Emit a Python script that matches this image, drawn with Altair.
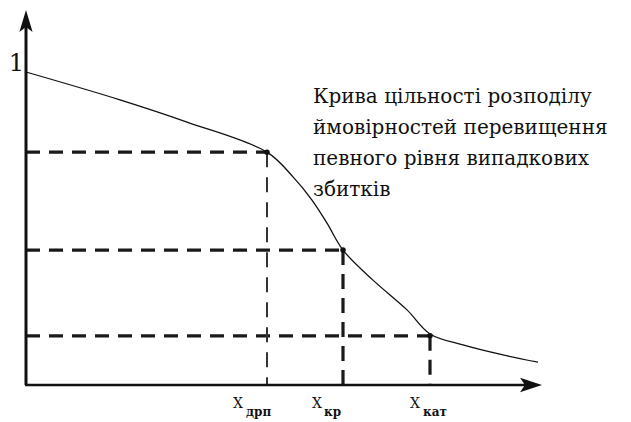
import altair as alt
import pandas as pd

# Curve: probability of exceeding a given level of random losses
curve_x = [0.0, 1.88, 3.22, 4.82, 5.34, 5.72, 6.02, 6.34, 6.94, 7.62, 8.08, 8.74, 9.54, 10.24]
curve_y = [1.0, 0.911, 0.840, 0.744, 0.665, 0.591, 0.517, 0.431, 0.335, 0.240, 0.163, 0.128, 0.096, 0.073]

# Threshold points
thr_names = ["дрп", "кр", "кат"]
thr_x = [4.82, 6.34, 8.08]
thr_y = [0.744, 0.431, 0.157]

y_label = "1"
annotation = ["Крива цільності розподілу",
              "ймовірностей перевищення",
              "певного рівня випадкових",
              "збитків"]

# ---- scales (50 px per x unit, 313 px per y unit) ----
PX = 50.0
PY = 313.0
xs = alt.Scale(domain=[-18 / PX, 597 / PX], nice=False, zero=False)
ys = alt.Scale(domain=[-35 / PY, 377 / PY], nice=False, zero=False)
FONT = "DejaVu Serif"


def X(field, **kw):
    return alt.X(field, type="quantitative", scale=xs, axis=None, **kw)


def Y(field, **kw):
    return alt.Y(field, type="quantitative", scale=ys, axis=None, **kw)


curve_df = pd.DataFrame({"x": curve_x, "y": curve_y})
thr_df = pd.DataFrame({"name": thr_names, "x": thr_x, "y": thr_y, "zero": [0.0] * 3})

# axes
yaxis = alt.Chart(pd.DataFrame({"x": [0.0], "y": [0.0], "y2": [1.15]})).mark_rule(
    color="#111", strokeWidth=3).encode(x=X("x"), y=Y("y"), y2="y2")
xaxis = alt.Chart(pd.DataFrame({"x": [-0.02], "x2": [10.1], "y": [0.0]})).mark_rule(
    color="#111", strokeWidth=2.5).encode(x=X("x"), x2="x2", y=Y("y"))
up_arrow = alt.Chart(pd.DataFrame({"x": [0.0], "y": [1.163]})).mark_point(
    shape="M0,-1L-0.6,1L0,0.55L0.6,1Z", size=484, filled=True, color="#111", opacity=1
).encode(x=X("x"), y=Y("y"))
right_arrow = alt.Chart(pd.DataFrame({"x": [10.1], "y": [0.0]})).mark_point(
    shape="M1,0L-1,-0.65L-0.55,0L-1,0.65Z", size=484, filled=True, color="#111", opacity=1
).encode(x=X("x"), y=Y("y"))

# dashed guides
hguides = alt.Chart(thr_df).mark_rule(
    color="#1a1a1a", strokeWidth=3.2, strokeDash=[14, 9]
).encode(x=alt.X("zero:Q", scale=xs, axis=None), x2="x", y=Y("y"))
vthin = alt.Chart(thr_df.iloc[[0]]).mark_rule(
    color="#333", strokeWidth=2, strokeDash=[15, 10]
).encode(x=X("x"), y=Y("y"), y2="zero")
vthick = alt.Chart(thr_df.iloc[1:]).mark_rule(
    color="#1a1a1a", strokeWidth=3.2, strokeDash=[15, 9]
).encode(x=X("x"), y=Y("y"), y2="zero")

line = alt.Chart(curve_df).mark_line(
    color="#111", strokeWidth=1.3, interpolate="catmull-rom"
).encode(x=X("x"), y=Y("y"))

dots = alt.Chart(thr_df).mark_point(
    shape="circle", size=30, filled=True, color="#111", opacity=1
).encode(x=X("x"), y=Y("y"))

# labels
one = alt.Chart(pd.DataFrame({"x": [0.0], "y": [1.0], "t": [y_label]})).mark_text(
    font=FONT, fontSize=24, align="right", baseline="alphabetic", dx=-2, dy=-1, color="#111"
).encode(x=X("x"), y=Y("y"), text="t:N")

X_OFF = [-34, -31, -20]
S_OFF = [-21, -19, -7]
xl_df = pd.DataFrame({
    "x": [v + o / PX for v, o in zip(thr_x, X_OFF)],
    "xs": [v + o / PX for v, o in zip(thr_x, S_OFF)],
    "y": [(385 - 408) / PY] * 3,
    "ys": [(385 - 416) / PY] * 3,
    "X": ["X"] * 3,
    "sub": thr_names,
})
xlab = alt.Chart(xl_df).mark_text(
    font=FONT, fontSize=14, align="left", baseline="alphabetic", color="#111"
).encode(x=X("x"), y=Y("y"), text="X:N")
sublab = alt.Chart(xl_df).mark_text(
    font=FONT, fontSize=12, fontWeight="bold", align="left", baseline="alphabetic", color="#111"
).encode(x=X("xs"), y=Y("ys"), text="sub:N")

ann = alt.Chart(pd.DataFrame({"x": [(313 - 26) / PX], "y": [(385 - 103) / PY],
                              "t": ["\n".join(annotation)]})).mark_text(
    font=FONT, fontSize=20, align="left", baseline="alphabetic", lineBreak="\n",
    lineHeight=31, color="#111"
).encode(x=X("x"), y=Y("y"), text="t:N")

chart = alt.layer(
    hguides, vthin, vthick, line, dots, yaxis, xaxis, up_arrow, right_arrow,
    one, xlab, sublab, ann
).properties(
    width=615, height=412, autosize=alt.AutoSizeParams(type="none"), padding=0,
    background="white"
).configure_view(stroke=None)

chart.save("out.html", embed_options={"renderer": "svg", "actions": False})
